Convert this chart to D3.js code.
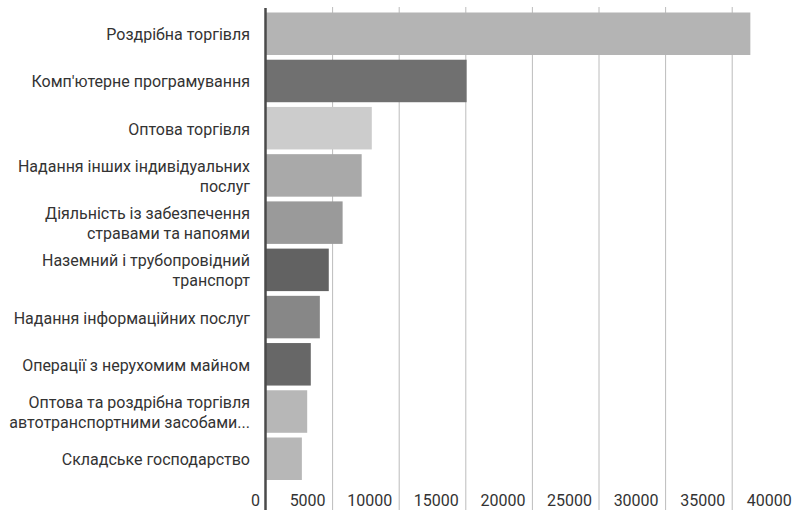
<!DOCTYPE html>
<html>
<head>
<meta charset="utf-8">
<script src="https://cdn.jsdelivr.net/npm/d3@7"></script>
<style>
  html, body { margin: 0; padding: 0; background: #ffffff; }
  svg { display: block; font-family: Roboto, "Noto Sans", sans-serif; }
</style>
</head>
<body>
<svg id="chart" width="797" height="510"></svg>
<script>
// Industries (labels may wrap onto two lines, split by "\n")
const categories = [
  "Роздрібна торгівля",
  "Комп'ютерне програмування",
  "Оптова торгівля",
  "Надання інших індивідуальних\nпослуг",
  "Діяльність із забезпечення\nстравами та напоями",
  "Наземний і трубопровідний\nтранспорт",
  "Надання інформаційних послуг",
  "Операції з нерухомим майном",
  "Оптова та роздрібна торгівля\nавтотранспортними засобами...",
  "Складське господарство"
];

const values = [36400, 15100, 7980, 7220, 5790, 4750, 4080, 3400, 3130, 2730];

const barColors = [
  "#b4b4b4", "#707070", "#cccccc", "#a9a9a9", "#9a9a9a",
  "#626262", "#878787", "#676767", "#b7b7b7", "#b7b7b7"
];

const tickValues = [0, 5000, 10000, 15000, 20000, 25000, 30000, 35000, 40000];
const tickLabels = ["0", "5000", "10000", "15000", "20000", "25000", "30000", "35000", "40000"];

const W = 797, H = 510;
const svg = d3.select("#chart");

const x = d3.scaleLinear().domain([0, 40000]).range([265.5, 798.3]);
const y = d3.scaleBand().domain(categories).range([12.5, 480]).paddingInner(0.1).paddingOuter(0);

const gridTop = 7;
const axisY = H;

// value axis with full-height gridlines
const axis = d3.axisBottom(x)
  .tickValues(tickValues)
  .tickSize(-(axisY - gridTop))
  .tickFormat((d, i) => tickLabels[i]);

const ax = svg.append("g")
  .attr("transform", `translate(0,${axisY})`)
  .call(axis);

ax.select(".domain").remove();
ax.selectAll(".tick line")
  .attr("stroke", "#bcbcbc")
  .attr("stroke-width", 1)
  .attr("display", d => d === 0 ? "none" : null);
ax.selectAll(".tick text")
  .attr("text-anchor", "end")
  .attr("x", d => d === 0 ? -6 : -7)
  .attr("y", -4)
  .attr("dy", null)
  .attr("fill", "#333333")
  .style("font-family", "Roboto, 'Noto Sans', sans-serif")
  .style("font-size", "16px");

// bars
svg.append("g")
  .selectAll("rect")
  .data(categories)
  .join("rect")
  .attr("x", x(0))
  .attr("y", d => y(d))
  .attr("width", (d, i) => x(values[i]) - x(0))
  .attr("height", y.bandwidth())
  .attr("fill", (d, i) => barColors[i]);

// zero baseline
svg.append("line")
  .attr("x1", x(0)).attr("x2", x(0))
  .attr("y1", 8).attr("y2", H)
  .attr("stroke", "#4a4a4a")
  .attr("stroke-width", 2.5);

// category labels
const lineH = 20;
const labels = svg.append("g")
  .selectAll("text")
  .data(categories)
  .join("text")
  .attr("text-anchor", "end")
  .attr("fill", "#333333")
  .style("font-size", "16px");

labels.each(function(d) {
  const lines = d.split("\n");
  const cy = y(d) + y.bandwidth() / 2;
  const first = cy + 6.5 - (lines.length - 1) * lineH / 2;
  d3.select(this).selectAll("tspan")
    .data(lines)
    .join("tspan")
    .attr("x", 250)
    .attr("y", (l, j) => first + j * lineH)
    .text(l => l);
});
</script>
</body>
</html>
